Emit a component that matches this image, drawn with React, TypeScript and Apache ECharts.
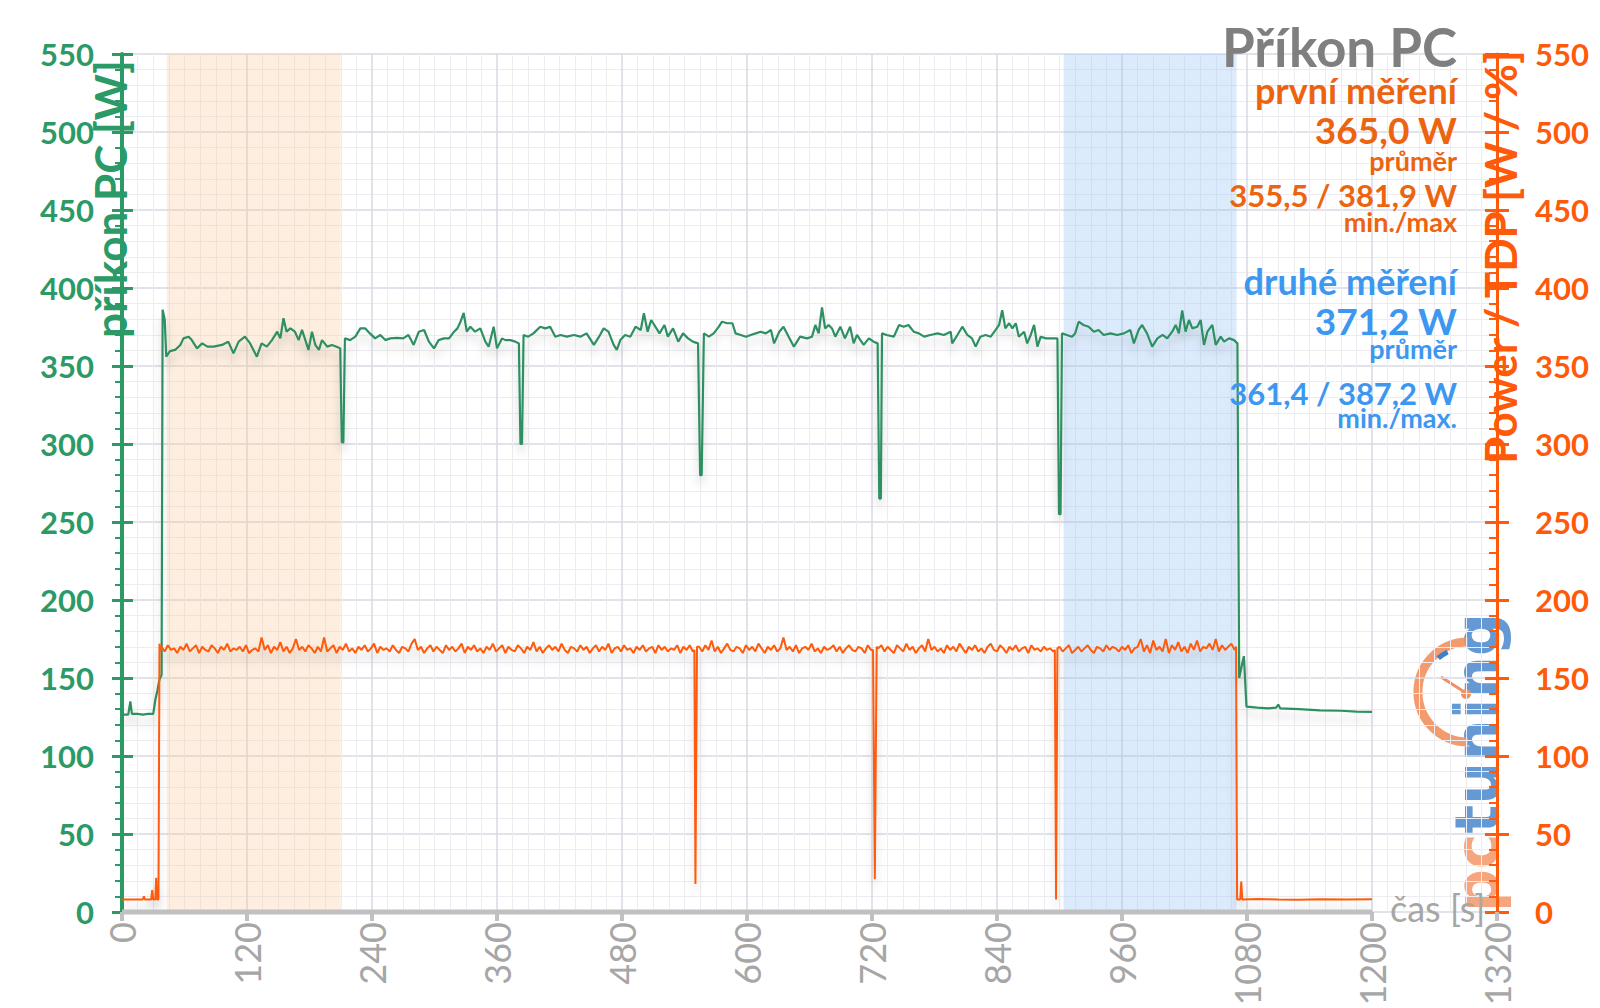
import React, { useEffect, useRef } from 'react';
import * as echarts from 'echarts';

const FONT = 'Lato, "Open Sans", sans-serif';
const GREEN = '#2b9a67';
const GREEN_LINE = '#2e9062';
const ORANGE = '#ff5a0a';
const ORANGE_TEXT = '#ec6410';
const BLUE_TEXT = '#3b97f0';
const GRAY = '#a6a6a6';

// axis ranges
const X_MIN = 0;
const X_MAX = 1320;
const X_INTERVAL = 120;
const Y_MIN = 0;
const Y_MAX = 550;
const Y_INTERVAL = 50;
const X_AXIS_LINE_END = 1200;

// highlighted measuring windows [from, to] in seconds
const firstBand = [43, 210];
const secondBand = [904, 1070];

// texts
const titleText = 'Příkon PC';
const firstLabel = 'první měření';
const firstAvg = '365,0 W';
const firstRange = '355,5 / 381,9 W';
const secondLabel = 'druhé měření';
const secondAvg = '371,2 W';
const secondRange = '361,4 / 387,2 W';

// PC power draw [s, W]
const greenPoints: [number, number][] = [
  [0, 126.5], [6, 126.5], [8, 135], [9.5, 127], [15, 127], [20, 126.5], [25, 127], [30, 127],
  [32, 136], [34, 142], [36, 149], [38, 152], [39, 386], [41, 380], [42.5, 356], [46, 359.5],
  [51, 360.3], [56, 363.5], [59, 367.7], [64, 368.8], [67, 366.6], [72, 361.3], [77, 364.5],
  [82, 362.4], [88, 362.4], [96, 363.5], [102, 365.6], [107, 358.1], [112, 365.6], [118, 368.8],
  [123, 364.5], [129.5, 356], [134, 364.5], [139, 362.4], [144, 366.6], [149, 372], [152, 367.7],
  [155, 380.6], [158, 372], [161.6, 374.1], [166, 372], [169.6, 366.6], [172.8, 373.1], [176, 366.6],
  [179, 360.3], [182.4, 372], [185.6, 363.5], [189, 360.3], [192, 366.6], [197, 362.4],
  [201.6, 363.5], [206, 362.4], [209.5, 361.3], [211, 301], [212.5, 301], [214, 367.7],
  [219, 366.6], [224, 368.8], [228.8, 374.1], [233.6, 374.1], [238, 370.9], [243, 367.7],
  [248, 369.9], [252.8, 366.6], [257.6, 367.7], [264, 368], [270, 367.7], [275, 369.9],
  [280, 363.5], [285, 372], [290, 373.1], [294.6, 365.6], [299.5, 361.3], [304, 366.6],
  [309, 367.7], [314, 367.7], [318.8, 372], [322, 374.1], [325, 378.4], [328, 384], [331, 372],
  [334.4, 375.2], [339, 372], [344, 374.1], [348.8, 365.6], [352, 362.4], [356.8, 375.2],
  [360, 361.3], [364.8, 367.7], [368, 366.6], [372.8, 366.6], [377.6, 365.6], [381, 364.5],
  [382.5, 300], [384, 300], [385.5, 369.9], [390, 368.8], [395, 370.9], [401.5, 375.2],
  [406.4, 374.1], [411, 375.2], [416, 368.8], [421, 369.9], [427, 368.8], [434, 369.9],
  [440, 368.8], [446, 370.9], [453, 363.5], [458, 368.8], [462.4, 374.1], [467, 372],
  [472, 363.5], [475, 360.3], [478.4, 366.6], [483, 369.9], [488, 368.8], [493, 375.2],
  [498, 373.1], [501, 383.8], [504.6, 372], [508, 379.5], [511, 376.3], [516, 370.9],
  [520.8, 376.3], [524, 368.8], [529, 374.1], [534, 365.6], [538.6, 370.9], [543.4, 367.7],
  [548, 365.6], [553, 364.5], [555, 280], [556.5, 280], [558.6, 370.9], [563.4, 368.8],
  [568, 370.9], [573, 375.2], [576, 378.4], [581, 377.4], [586, 377.4], [589, 370.9],
  [594, 369.9], [599, 368.8], [603.6, 369.9], [608.4, 370.9], [613, 372], [618, 370.9],
  [623, 373.1], [626, 364.5], [631, 372], [635, 375.2], [640, 368.8], [645, 362.4],
  [651, 368.8], [657.6, 367.7], [662.4, 368.8], [665.6, 376.3], [668.8, 370.9], [672, 387.5],
  [675, 374.1], [678.4, 376.3], [681.6, 374.1], [684.8, 368.8], [689.6, 375.2], [694, 367.7],
  [699, 375.2], [702.4, 364.5], [705.6, 369.9], [708.8, 366.6], [712, 363.5], [717, 367.7],
  [721.6, 365.6], [725.4, 364.5], [727, 265], [728.5, 265], [729.6, 370.9], [734, 369.9],
  [741, 368.8], [746, 376.3], [750.4, 375.2], [755, 376.3], [760, 372], [765, 370.9],
  [770, 368.8], [776, 369.9], [783, 370.9], [789, 369.9], [795.5, 372], [797, 364.5],
  [802, 369.9], [806.7, 375.2], [811.5, 369.9], [816, 367.7], [819.5, 362.4], [824, 368.8],
  [829, 369.9], [834, 368.8], [838.7, 373.1], [842, 376.3], [845, 385.7], [848, 374.1],
  [851.7, 377.4], [854.8, 374.1], [858, 377.4], [861, 368.8], [866, 372], [869, 364.5],
  [872.4, 369.9], [875.6, 376.3], [878.8, 362.4], [882, 368.8], [887, 367.7], [891.6, 367.7],
  [898, 367.7], [899.5, 255], [901, 255], [902.4, 370.9], [907, 369.9], [912, 368.8],
  [915, 370.9], [918.4, 378.4], [923, 376.3], [928, 375.2], [933, 372], [937.5, 373.1],
  [942.4, 369.9], [949, 370.9], [955.4, 369.9], [961.8, 370.9], [968, 373.1], [971.4, 364.5],
  [976, 373.1], [979.3, 376.3], [984, 370.9], [989, 362.4], [994, 367.7], [999, 369.9],
  [1003.4, 367.7], [1008.2, 372], [1011.5, 376.3], [1014.6, 370.9], [1017.8, 385.7], [1021, 372],
  [1024.3, 379.5], [1027.5, 374.1], [1032.3, 375.2], [1035.5, 379.5], [1038.7, 363.5], [1042, 372],
  [1046.7, 376.3], [1050, 363.5], [1054.8, 368.8], [1058, 365.6], [1062.8, 367.7], [1067.6, 366.6],
  [1070.8, 364.5], [1072.5, 150], [1075, 158], [1077, 164], [1079.5, 131.6], [1090, 131],
  [1100, 130.5], [1108, 131], [1110, 133], [1112, 130.5], [1130, 130], [1150, 129.3],
  [1170, 129], [1185, 128.5], [1200, 128.3],
];

// Power / TDP [s, W]
const ORANGE_STEP = 3;
const orangeStartPoints: [number, number][] = [
  [0, 8], [20, 8], [21, 10], [22, 8], [28, 8], [29, 14], [30, 8], [32, 8], [32.8, 22],
  [33.6, 8], [35, 8], [36, 172], [37, 167],
];
const orangeRunAStart = 38;
const orangeRunA = [
  170, 167, 171, 168, 169, 166, 170, 168, 172, 167, 169, 171, 166, 170, 168, 167, 171, 169,
  166, 170, 168, 172, 167, 169, 168, 170, 167, 171, 166, 168, 169, 167, 176, 168, 171, 166,
  170, 168, 173, 167, 170, 166, 169, 175, 168, 170, 167, 171, 169, 166, 170, 167, 176, 167,
  169, 171, 166, 170, 168, 172, 167, 169, 166, 170, 168, 171, 167, 169, 172, 166, 170, 168,
  169, 167, 171, 168, 166, 170, 169, 167, 172, 175, 168, 170, 166, 169, 171, 167, 170, 168,
  166, 171, 168, 170, 167, 169, 172, 166, 170, 168, 171, 167, 169, 166, 170, 168, 172, 167,
  169, 171, 166, 170, 168, 167, 171, 169, 166, 170, 168, 173, 167, 170, 166, 169, 171, 168,
  170, 167, 172, 168, 166, 170, 169, 167, 171, 168, 170, 166, 169, 171, 167, 170, 168, 172,
  166, 169, 170, 167, 171, 168, 169, 166, 170, 168, 171, 167, 169, 170, 166, 171, 168, 170,
  167, 169, 168, 171, 166, 170, 168, 171, 167,
];
const orangeDrop1: [number, number][] = [[549.5, 168], [550.5, 18], [552, 170]];
const orangeRunBStart = 554;
const orangeRunB = [
  170, 167, 171, 168, 174, 167, 170, 166, 169, 172, 168, 167, 170, 169, 166, 171, 168, 170,
  167, 172, 169, 166, 170, 168, 171, 167, 169, 176, 168, 170, 167, 171, 166, 169, 170, 168,
  172, 167, 169, 166, 170, 168, 169, 171, 167, 170, 166, 169, 171, 168, 167, 170, 169, 166,
  171, 168,
];
const orangeDrop2: [number, number][] = [[721, 168], [722.7, 21], [724.5, 170]];
const orangeRunCStart = 726;
const orangeRunC = [
  169, 171, 167, 170, 168, 166, 171, 169, 167, 172, 168, 170, 166, 169, 171, 167, 175, 168,
  170, 167, 169, 166, 171, 168, 170, 167, 172, 169, 166, 170, 168, 171, 167, 169, 166, 170,
  172, 168, 167, 171, 169, 166, 170, 168, 171, 167, 169, 170, 166, 171, 168, 169, 167, 170,
  168, 169, 167,
];
const orangeDrop3: [number, number][] = [[895.5, 168], [896.7, 8], [898, 169]];
const orangeRunDStart = 900;
const orangeRunD = [
  170, 167, 169, 171, 166, 168, 170, 167, 169, 171, 168, 166, 170, 169, 167, 171, 168, 170,
  169, 167, 170, 168, 171, 166, 169, 170, 175, 167, 171, 166, 174, 168, 170, 167, 175, 166,
  171, 168, 173, 167, 170, 166, 172, 168, 174, 167, 170, 169, 172, 168, 175, 167, 171, 168,
  170, 172, 168,
];
const orangeEndPoints: [number, number][] = [
  [1069.5, 170], [1070.5, 8], [1073.5, 8], [1074.5, 19.5], [1075.5, 8], [1090, 8.3],
  [1110, 8], [1130, 7.8], [1150, 8.2], [1175, 8], [1200, 8.1],
];

const runToPoints = (start: number, vals: number[]): [number, number][] =>
  vals.map((v, i) => [start + i * ORANGE_STEP, v]);

const orangePoints: [number, number][] = [
  ...orangeStartPoints,
  ...runToPoints(orangeRunAStart, orangeRunA),
  ...orangeDrop1,
  ...runToPoints(orangeRunBStart, orangeRunB),
  ...orangeDrop2,
  ...runToPoints(orangeRunCStart, orangeRunC),
  ...orangeDrop3,
  ...runToPoints(orangeRunDStart, orangeRunD),
  ...orangeEndPoints,
];

function statText(text: string, y: number, size: number, color: string) {
  return {
    type: 'text',
    x: 1457,
    y,
    z: 100,
    style: {
      text,
      fill: color,
      font: `bold ${size}px ${FONT}`,
      align: 'right',
      verticalAlign: 'middle',
    },
  };
}

export default function App() {
  const ref = useRef<HTMLDivElement>(null);

  useEffect(() => {
    if (!ref.current) return;
    const chart = echarts.init(ref.current, null, { renderer: 'svg' });

    const splitMajor = { show: true, lineStyle: { color: '#d9d9e3', width: 1.5 } };
    const splitMinor = { show: true, lineStyle: { color: '#ececf2', width: 1 } };

    const option: any = {
      animation: false,
      backgroundColor: '#ffffff',
      grid: {
        left: 122,
        right: 103,
        top: 54,
        bottom: 96,
        containLabel: false,
        outerBoundsMode: 'none',
      },
      xAxis: {
        type: 'value',
        min: X_MIN,
        max: X_MAX,
        interval: X_INTERVAL,
        axisLine: { show: false },
        axisTick: { show: true, length: 9, lineStyle: { color: '#c0c0c0', width: 4 } },
        minorTick: { show: false, splitNumber: 8 },
        axisLabel: {
          rotate: 90,
          color: GRAY,
          fontFamily: FONT,
          fontSize: 36,
          margin: 10,
          formatter: (v: number) => String(v),
        },
        splitLine: splitMajor,
        minorSplitLine: splitMinor,
      },
      yAxis: [
        {
          type: 'value',
          position: 'left',
          min: Y_MIN,
          max: Y_MAX,
          interval: Y_INTERVAL,
          axisLine: { show: true, onZero: false, lineStyle: { color: GREEN, width: 4 } },
          axisTick: { show: true, inside: false, length: 10, lineStyle: { color: GREEN, width: 3 } },
          minorTick: { show: true, splitNumber: 5, length: 7, lineStyle: { color: GREEN, width: 2 } },
          axisLabel: { color: GREEN, fontFamily: FONT, fontWeight: 'bold', fontSize: 31, margin: 28 },
          splitLine: splitMajor,
          minorSplitLine: splitMinor,
        },
        {
          type: 'value',
          position: 'left',
          min: Y_MIN,
          max: Y_MAX,
          interval: Y_INTERVAL,
          axisLine: { show: false },
          axisTick: { show: true, inside: true, length: 11, lineStyle: { color: GREEN, width: 3 } },
          axisLabel: { show: false },
          splitLine: { show: false },
        },
        {
          type: 'value',
          position: 'right',
          min: Y_MIN,
          max: Y_MAX,
          interval: Y_INTERVAL,
          axisLine: { show: true, onZero: false, lineStyle: { color: ORANGE, width: 3 } },
          axisTick: { show: true, inside: true, length: 12, lineStyle: { color: ORANGE, width: 3 } },
          minorTick: { show: true, splitNumber: 5, length: 8, lineStyle: { color: ORANGE, width: 2 } },
          axisLabel: { color: ORANGE, fontFamily: FONT, fontWeight: 'bold', fontSize: 31, margin: 38 },
          splitLine: { show: false },
        },
        {
          type: 'value',
          position: 'right',
          min: Y_MIN,
          max: Y_MAX,
          interval: Y_INTERVAL,
          axisLine: { show: false },
          axisTick: { show: true, inside: false, length: 12, lineStyle: { color: ORANGE, width: 3 } },
          axisLabel: { show: false },
          splitLine: { show: false },
        },
      ],
      series: [
        {
          name: 'bands',
          type: 'line',
          data: [[X_MIN, Y_MIN], [X_AXIS_LINE_END, Y_MIN]],
          showSymbol: false,
          lineStyle: { opacity: 0 },
          silent: true,
          z: 1,
          markArea: {
            silent: true,
            data: [
              [
                { xAxis: firstBand[0], itemStyle: { color: 'rgba(250, 200, 150, 0.3)' } },
                { xAxis: firstBand[1] },
              ],
              [
                { xAxis: secondBand[0], itemStyle: { color: 'rgba(150, 195, 245, 0.33)' } },
                { xAxis: secondBand[1] },
              ],
            ],
          },
        },
        {
          name: 'axisLine',
          type: 'line',
          data: [[X_MIN, Y_MIN], [X_AXIS_LINE_END, Y_MIN]],
          showSymbol: false,
          clip: false,
          silent: true,
          lineStyle: { color: '#c0c0c0', width: 5 },
          z: 4,
        },
        {
          name: 'Příkon PC',
          type: 'line',
          data: greenPoints,
          yAxisIndex: 0,
          showSymbol: false,
          silent: true,
          lineStyle: {
            color: GREEN_LINE,
            width: 2.2,
            shadowColor: 'rgba(0,0,0,0.18)',
            shadowBlur: 10,
            shadowOffsetY: 8,
          },
          z: 3,
        },
        {
          name: 'Power / TDP',
          type: 'line',
          data: orangePoints,
          yAxisIndex: 0,
          showSymbol: false,
          silent: true,
          lineStyle: {
            color: ORANGE,
            width: 2,
            shadowColor: 'rgba(0,0,0,0.18)',
            shadowBlur: 10,
            shadowOffsetY: 8,
          },
          z: 3,
        },
      ],
      graphic: [
        statText(titleText, 46, 53, '#7f7f7f'),
        statText(firstLabel, 90, 36, ORANGE_TEXT),
        statText(firstAvg, 129, 37, ORANGE_TEXT),
        statText('průměr', 160, 27, ORANGE_TEXT),
        statText(firstRange, 195, 31, ORANGE_TEXT),
        statText('min./max', 221, 27, ORANGE_TEXT),
        statText(secondLabel, 281, 36, BLUE_TEXT),
        statText(secondAvg, 320, 37, BLUE_TEXT),
        statText('průměr', 348, 27, BLUE_TEXT),
        statText(secondRange, 393, 31, BLUE_TEXT),
        statText('min./max.', 417, 27, BLUE_TEXT),
        {
          type: 'text',
          x: 110,
          y: 199,
          rotation: Math.PI / 2,
          z: 100,
          style: {
            text: 'příkon PC [W]',
            fill: GREEN,
            font: `bold 44px ${FONT}`,
            align: 'center',
            verticalAlign: 'middle',
          },
        },
        {
          type: 'text',
          x: 1500,
          y: 257,
          rotation: Math.PI / 2,
          z: 100,
          style: {
            text: 'Power / TDP [W / %]',
            fill: ORANGE,
            font: `bold 44px ${FONT}`,
            align: 'center',
            verticalAlign: 'middle',
          },
        },
        {
          type: 'text',
          x: 1390,
          y: 908,
          z: 100,
          style: {
            text: 'čas [s]',
            fill: GRAY,
            font: `36px ${FONT}`,
            align: 'left',
            verticalAlign: 'middle',
          },
        },
        {
          type: 'group',
          z: 50,
          children: [
            {
              type: 'text',
              x: 1507,
              y: 912,
              rotation: Math.PI / 2,
              style: {
                text: '{a|pc}{b|tuning}',
                align: 'left',
                verticalAlign: 'bottom',
                opacity: 0.8,
                rich: {
                  a: { fill: '#f2905f', font: `bold 60px "DejaVu Sans", sans-serif` },
                  b: { fill: '#3f80c8', font: `bold 60px "DejaVu Sans", sans-serif` },
                },
              },
            },
            {
              type: 'arc',
              shape: { cx: 1468, cy: 692, r: 50, startAngle: Math.PI / 2, endAngle: (3 * Math.PI) / 2, clockwise: true },
              style: { stroke: '#f2905f', lineWidth: 9, fill: 'none', opacity: 0.9 },
            },
            {
              type: 'arc',
              shape: { cx: 1468, cy: 692, r: 45, startAngle: 1.27 * Math.PI, endAngle: 1.35 * Math.PI, clockwise: true },
              style: { stroke: '#3f80c8', lineWidth: 5, fill: 'none' },
            },
            {
              type: 'line',
              shape: { x1: 1441, y1: 677, x2: 1466, y2: 693 },
              style: { stroke: '#f2905f', lineWidth: 3 },
            },
            {
              type: 'circle',
              shape: { cx: 1466, cy: 694, r: 5 },
              style: { fill: '#f2905f' },
            },
          ],
        },
      ],
    };

    chart.setOption(option);
    return () => chart.dispose();
  }, []);

  return (
    <div
      ref={ref}
      style={{ position: 'absolute', left: 0, top: 0, width: 1600, height: 1008, background: '#fff' }}
    />
  );
}
